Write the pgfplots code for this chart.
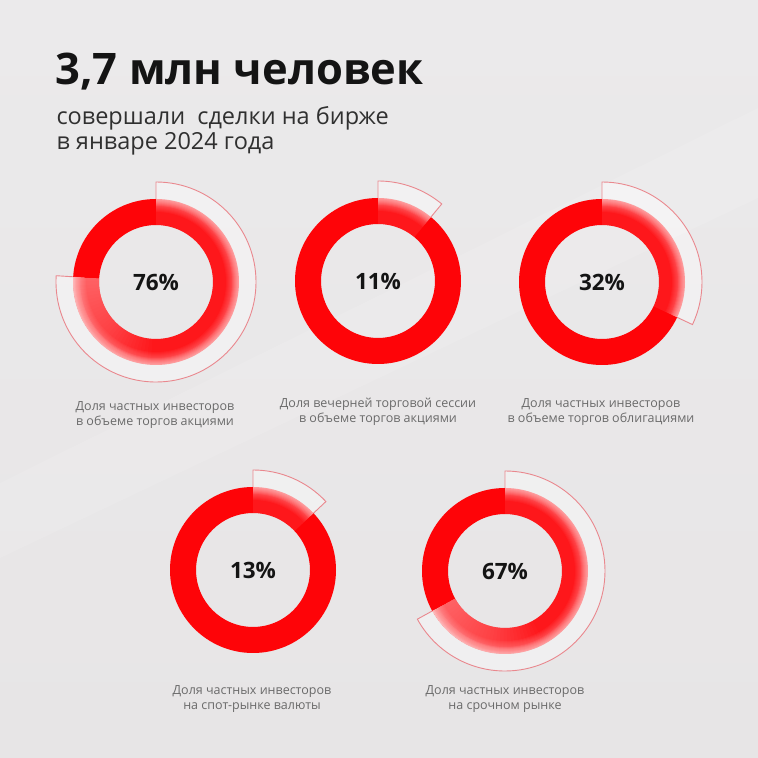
\documentclass[border=0pt]{standalone}
\usepackage{fontspec}
\setmainfont{Open Sans}
\usepackage{pgfplots}
\usepackage{pgfplotstable}
\pgfplotsset{compat=1.18}
\definecolor{bgtop}{RGB}{235,234,235}
\definecolor{bgbot}{RGB}{231,229,230}
\definecolor{ringred}{RGB}{254,4,8}
\definecolor{hlred}{RGB}{232,70,80}
\definecolor{titlecol}{RGB}{20,20,20}
\definecolor{subcol}{RGB}{48,48,48}
\definecolor{capcol}{RGB}{106,106,106}
\tikzset{captxt/.style={anchor=base, text=capcol, font=\fontsize{12.5pt}{15pt}\selectfont}}

\pgfplotstableread{
x   y   val
156 476 76
378 477 11
602 476 32
253 188 13
505 187 67
}\donutdata

\newcommand\hlsector[2]{% inner radius, opacity
  \fill[white, fill opacity=#2] (90:#1pt) arc[start angle=90, end angle=\aend, radius=#1pt]
      -- (\aend:100pt) arc[start angle=\aend, end angle=90, radius=100pt] -- cycle;}
\newcommand\tailfade[1]{% angular span from the end
  \pgfmathsetmacro\astart{\aend+#1}%
  \fill[white, fill opacity=0.015] (\astart:57pt) arc[start angle=\astart, end angle=\aend, radius=57pt]
      -- (\aend:83pt) arc[start angle=\aend, end angle=\astart, radius=83pt] -- cycle;}
\newcommand\donut[1]{%
  \pgfmathsetmacro\aend{90-3.6*#1}%
  \fill[ringred, even odd rule] (0,0) circle[radius=83pt] circle[radius=57pt];
  \hlsector{57}{0.08}%
  \foreach \ra in {70,71,...,75}{\hlsector{\ra}{0.035}}%
  \foreach \ra in {76,77,...,82}{\hlsector{\ra}{0.09}}%
  \ifdim #1pt>50pt
    \foreach \s in {3,6,...,90}{\tailfade{\s}}%
  \fi
  \draw[hlred, line width=0.9pt, draw opacity=0.6] (90:83pt) -- (90:100pt)
      arc[start angle=90, end angle=\aend, radius=100pt] -- (\aend:83pt);
  \node[text=titlecol, font=\fontsize{22.5pt}{27pt}\selectfont\bfseries] at (0,0)
    {\pgfmathprintnumber[fixed, precision=0, /pgf/number format/assume math mode=true]{#1}\%};
}

\begin{document}
\begin{tikzpicture}
\begin{axis}[scale only axis, width=758pt, height=758pt,
  xmin=0, xmax=758, ymin=0, ymax=758, hide axis, clip=false]
% background
\addplot[draw=none, top color=bgtop, bottom color=bgbot] coordinates {(0,758) (758,758)} \closedcycle;
\addplot[draw=none, fill=white, fill opacity=0.10] coordinates {(0,275) (0,200) (758,560) (758,650) (0,275)};
% title
\node[anchor=base west, text=titlecol, font=\fontsize{43.5pt}{52pt}\selectfont\bfseries] at (axis cs:52,673) {3,7 млн человек};
\node[anchor=base west, text=subcol, font=\fontsize{23.5pt}{28pt}\selectfont] at (axis cs:53,633) {совершали\ \ сделки на бирже};
\node[anchor=base west, text=subcol, font=\fontsize{23.5pt}{28pt}\selectfont] at (axis cs:53,608) {в январе 2024 года};
% donuts
\addplot[scatter, only marks, mark=*, mark size=0pt, draw=none, fill=none,
  visualization depends on={\thisrow{val}\as\pct},
  scatter/@pre marker code/.code={\donut{\pct}},
  scatter/@post marker code/.code={}] table[x=x, y=y] {\donutdata};
% captions
\node[captxt] at (axis cs:155,347) {Доля частных инвесторов};
\node[captxt] at (axis cs:155,332) {в объеме торгов акциями};
\node[captxt] at (axis cs:378,350) {Доля вечерней торговой сессии};
\node[captxt] at (axis cs:378,335) {в объеме торгов акциями};
\node[captxt] at (axis cs:601,350) {Доля частных инвесторов};
\node[captxt] at (axis cs:601,335) {в объеме торгов облигациями};
\node[captxt] at (axis cs:252,63) {Доля частных инвесторов};
\node[captxt] at (axis cs:252,48) {на спот-рынке валюты};
\node[captxt] at (axis cs:505,63) {Доля частных инвесторов};
\node[captxt] at (axis cs:505,48) {на срочном рынке};
\end{axis}
\end{tikzpicture}
\end{document}
